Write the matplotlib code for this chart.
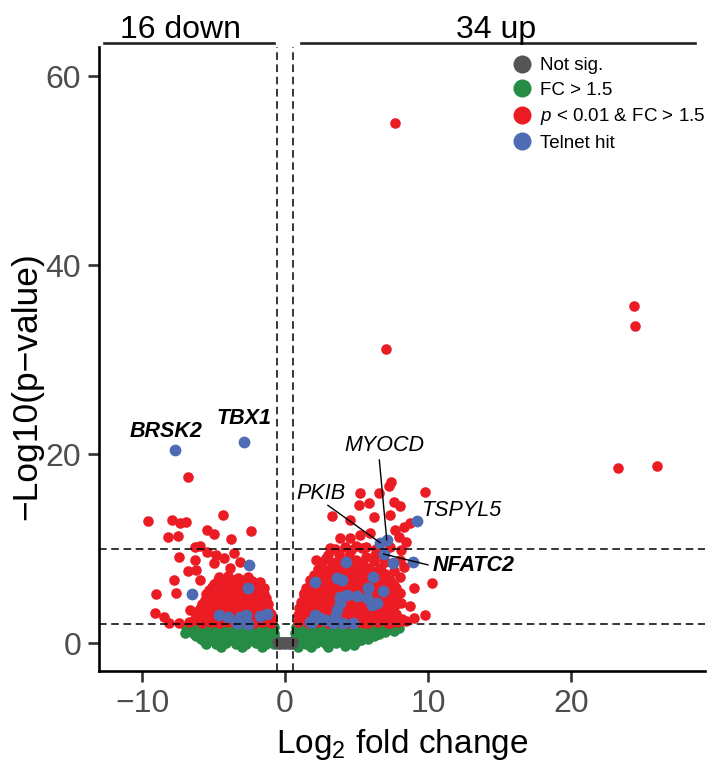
import matplotlib
matplotlib.use("Agg")
import matplotlib.pyplot as plt
from matplotlib.lines import Line2D

plt.rcParams['font.family'] = ['Liberation Sans', 'DejaVu Sans']
plt.rcParams['mathtext.fontset'] = 'custom'
plt.rcParams['mathtext.rm'] = 'Liberation Sans'
plt.rcParams['mathtext.it'] = 'Liberation Sans:italic'

# ---- genes with |log2FC| below threshold (not significant) ----
notsig_x = [-0.55, -0.42, -0.3, -0.18, -0.05, 0.08, 0.2, 0.33, 0.45, 0.55,
            -0.5, -0.25, 0.0, 0.25, 0.5]
notsig_y = [0.1, 0.15, 0.1, 0.15, 0.1, 0.15, 0.1, 0.15, 0.1, 0.1,
            -0.1, -0.05, -0.1, -0.05, -0.1]

# ---- fold change > 1.5 but p >= 0.01 ----
fc_down_x = [
    -6.9, -6.3, -5.6, -4.9, -4.2, -3.5, -2.8, -2.1, -1.4, -0.8,
    -6.6, -6.0, -5.3, -4.6, -3.9, -3.2, -2.5, -1.8, -1.1,
    -7.0, -6.4, -5.7, -5.0, -4.3, -3.6, -2.9, -2.2, -1.5, -0.8,
    -6.2, -5.6, -4.9, -4.2, -3.5, -2.8, -2.1, -1.4, -0.8,
    -5.9, -5.3, -4.6, -3.9, -3.2, -2.5, -1.8, -1.1, -0.7,
    -5.7, -5.0, -4.3, -3.6, -2.9, -2.2, -1.5, -0.9,
    -5.5, -4.8, -4.1, -3.4, -2.7, -2.0, -1.3, -0.8,
    -4.5, -3.0, -1.6,
]
fc_down_y = [
    1.7, 1.6, 1.8, 1.7, 1.8, 1.7, 1.8, 1.7, 1.8, 1.7,
    1.4, 1.4, 1.4, 1.4, 1.4, 1.4, 1.4, 1.4, 1.4,
    1.1, 1.0, 1.2, 1.1, 1.0, 1.1, 1.2, 1.0, 1.1, 1.1,
    0.8, 0.8, 0.8, 0.8, 0.8, 0.8, 0.8, 0.8, 0.8,
    0.5, 0.4, 0.5, 0.6, 0.4, 0.5, 0.6, 0.5, 0.4,
    0.2, 0.2, 0.2, 0.2, 0.2, 0.2, 0.2, 0.2,
    -0.1, -0.1, 0.0, -0.1, -0.1, 0.0, -0.1, -0.1,
    -0.4, -0.4, -0.4,
]
fc_up_x = [
    0.8, 1.5, 2.2, 2.9, 3.6, 4.3, 5.0, 5.7, 6.4, 7.1, 7.7,
    1.1, 1.8, 2.5, 3.2, 3.9, 4.6, 5.3, 6.0, 6.7, 7.4, 8.0,
    0.7, 1.4, 2.1, 2.8, 3.5, 4.2, 4.9, 5.6, 6.3, 7.0, 7.6,
    1.0, 1.7, 2.4, 3.1, 3.8, 4.5, 5.2, 5.9, 6.6,
    0.7, 1.4, 2.1, 2.8, 3.5, 4.2, 4.9, 5.6, 6.2,
    1.1, 1.8, 2.5, 3.2, 3.9, 4.6, 5.3, 5.8,
    0.8, 1.5, 2.2, 2.9, 3.6, 4.3, 5.0,
    0.9, 1.8, 3.0, 4.2, 4.8,
]
fc_up_y = [
    1.7, 1.8, 1.7, 1.8, 1.7, 1.8, 1.7, 1.8, 1.7, 1.8, 1.7,
    1.4, 1.4, 1.4, 1.4, 1.4, 1.4, 1.4, 1.4, 1.4, 1.5, 1.6,
    1.1, 1.0, 1.2, 1.1, 1.0, 1.1, 1.2, 1.0, 1.1, 1.2, 1.3,
    0.8, 0.8, 0.8, 0.8, 0.8, 0.8, 0.8, 0.9, 1.0,
    0.5, 0.4, 0.5, 0.6, 0.4, 0.5, 0.6, 0.6, 0.8,
    0.2, 0.2, 0.2, 0.2, 0.2, 0.3, 0.4, 0.5,
    -0.1, -0.1, 0.0, -0.1, 0.0, 0.0, 0.1,
    -0.35, -0.4, -0.4, -0.3, -0.2,
]

# ---- p < 0.01 & fold change > 1.5, down-regulated ----
sig_down_x = [
    -9.6, -7.9, -7.35, -6.95, -8.2, -7.5, -4.35, -5.45, -5.0, -2.4,
    -3.8, -6.3, -5.95, -5.45, -4.8, -4.25, -3.6, -7.45, -6.3, -5.0,
    -3.15, -6.8, -6.2, -3.85, -7.8, -5.95, -9.0, -7.6, -6.65, -9.1,
    -8.5, -8.15, -7.4, -6.75, -1.75, -1.5, -2.0, -1.4, -6.8,
    -4.6, -4.0, -3.3, -2.6,
    -4.7, -4.1, -3.5, -2.9, -2.3,
    -5.0, -4.4, -3.8, -3.1, -2.5, -2.0,
    -5.1, -4.5, -3.9, -3.3, -2.7, -2.1,
    -5.3, -4.7, -4.1, -3.5, -2.9, -2.3, -1.8,
    -5.5, -4.9, -4.3, -3.7, -3.1, -2.5, -2.0, -1.5,
    -5.4, -4.8, -4.2, -3.6, -3.0, -2.4, -1.8, -1.3,
    -5.6, -5.0, -4.4, -3.8, -3.2, -2.6, -2.0, -1.45,
    -5.8, -5.2, -4.6, -4.0, -3.4, -2.8, -2.2, -1.6, -1.2,
    -5.9, -5.1, -4.5, -3.9, -3.3, -2.7, -2.1, -1.5,
    -6.0, -5.4, -4.8, -4.2, -3.6, -3.0, -2.4, -1.8, -1.2,
    -6.2, -5.7, -5.1, -4.5, -3.9, -3.3, -2.7, -2.1, -1.6, -1.0,
    -6.1, -5.5, -4.9, -4.3, -3.7, -3.1, -2.5, -1.9, -1.3, -0.9,
    -6.4, -5.6, -5.0, -4.4, -3.8, -3.2, -2.6, -2.0, -1.4, -0.9,
    -5.8, -5.2, -4.6, -4.0, -3.4, -2.8, -2.2, -1.6, -1.0,
]
sig_down_y = [
    12.9, 13.1, 12.7, 12.8, 11.3, 11.35, 13.6, 12.0, 11.6, 11.9,
    11.0, 10.2, 10.3, 9.7, 9.3, 9.0, 9.6, 9.1, 8.8, 8.5,
    8.6, 7.6, 7.75, 7.95, 6.7, 6.7, 5.2, 5.35, 3.5, 3.2,
    2.8, 2.2, 2.1, 2.3, 6.5, 5.8, 4.6, 3.9, 17.6,
    7.0, 7.1, 6.9, 7.0,
    6.65, 6.6, 6.7, 6.65, 6.6,
    6.3, 6.2, 6.4, 6.3, 6.2, 6.3,
    5.95, 5.9, 6.0, 5.95, 5.9, 5.95,
    5.6, 5.5, 5.7, 5.6, 5.5, 5.6, 5.7,
    5.25, 5.2, 5.3, 5.25, 5.2, 5.25, 5.3, 5.2,
    4.9, 4.8, 5.0, 4.9, 4.8, 4.9, 5.0, 4.8,
    4.55, 4.5, 4.6, 4.55, 4.5, 4.55, 4.6, 4.5,
    4.2, 4.1, 4.3, 4.2, 4.1, 4.2, 4.3, 4.1, 4.2,
    3.85, 3.8, 3.9, 3.85, 3.8, 3.85, 3.9, 3.8,
    3.5, 3.4, 3.6, 3.5, 3.4, 3.5, 3.6, 3.4, 3.5,
    3.15, 3.1, 3.2, 3.15, 3.1, 3.15, 3.2, 3.1, 3.15, 3.1,
    2.8, 2.7, 2.9, 2.8, 2.7, 2.8, 2.9, 2.7, 2.8, 2.7,
    2.5, 2.45, 2.5, 2.45, 2.5, 2.45, 2.5, 2.45, 2.5, 2.45,
    2.2, 2.3, 2.2, 2.3, 2.2, 2.3, 2.2, 2.3, 2.2,
]

# ---- p < 0.01 & fold change > 1.5, up-regulated ----
sig_up_x = [
    7.4, 7.3, 5.25, 6.6, 9.8, 5.15, 5.85, 7.6, 8.05, 3.3,
    4.55, 6.2, 7.35, 8.75, 7.7, 8.3, 3.85, 4.55, 5.25, 5.95,
    7.95, 8.5, 3.15, 4.2, 5.0, 5.7, 7.35, 8.15, 2.2, 2.9,
    3.6, 5.0, 5.7, 6.9, 8.05, 8.3, 2.7, 4.55, 5.5, 6.65,
    7.6, 1.75, 3.15, 5.0, 7.35, 8.05, 9.0, 10.3, 1.3, 2.7,
    3.85, 6.65, 8.05, 1.3, 2.45, 6.2, 7.6, 8.75, 1.05, 2.7,
    5.25, 6.65, 7.8, 9.0, 9.8, 5.5, 7.35,
    0.9, 1.6, 2.3, 3.0, 3.7, 4.4, 5.1, 5.8, 6.5, 7.2, 7.9, 8.5,
    1.2, 1.9, 2.6, 3.3, 4.0, 4.7, 5.4, 6.1, 6.8, 7.5, 8.2,
    0.9, 1.5, 2.2, 2.9, 3.6, 4.3, 5.0, 5.7, 6.4, 7.1, 7.8,
    1.2, 1.9, 2.6, 3.3, 4.0, 4.7, 5.4, 6.1, 6.8, 7.5,
    1.0, 1.7, 2.4, 3.1, 3.8, 4.5, 5.2, 5.9, 6.6, 7.3,
    1.4, 2.1, 2.8, 3.5, 4.2, 4.9, 5.6, 6.3, 7.0, 7.7,
    1.1, 1.8, 2.5, 3.2, 3.9, 4.6, 5.3, 6.0, 6.7, 7.4, 8.1,
    1.5, 2.2, 2.9, 3.6, 4.3, 5.0, 5.7, 6.4, 7.1, 7.8,
    1.3, 2.0, 2.7, 3.4, 4.1, 4.8, 5.5, 6.2, 6.9, 7.6,
    1.7, 2.4, 3.1, 3.8, 4.5, 5.2, 5.9, 6.6, 7.3,
    1.5, 2.2, 2.9, 3.6, 4.3, 5.0, 5.7, 6.4, 7.1, 7.8,
    2.0, 2.7, 3.4, 4.1, 4.8, 5.5, 6.2, 6.9, 7.6,
    1.8, 2.5, 3.2, 3.9, 4.6, 5.3, 6.0, 6.7,
    2.2, 2.9, 3.6, 4.3, 5.0, 5.7, 6.4,
    2.0, 2.7, 3.4, 4.1, 4.8, 5.5, 6.2, 7.0,
    2.6, 3.3, 4.0, 4.7, 5.4, 6.1, 6.8,
    2.3, 3.0, 3.7, 4.4, 5.1, 5.8,
    2.6, 3.3, 4.0, 4.7, 5.4, 6.2, 7.0,
    3.0, 3.8, 4.5, 6.3,
    3.5, 4.6, 5.4, 6.4,
]
sig_up_y = [
    17.1, 16.6, 15.9, 15.9, 16.0, 14.6, 14.9, 15.0, 14.5, 13.5,
    13.05, 13.4, 13.6, 12.7, 12.0, 12.35, 11.1, 11.1, 11.45, 11.65,
    11.3, 10.75, 10.05, 10.2, 10.3, 10.2, 10.2, 9.9, 8.8, 9.0,
    8.6, 8.8, 9.15, 8.8, 8.8, 8.1, 7.75, 7.75, 8.1, 7.95,
    7.6, 6.7, 6.7, 6.7, 6.7, 7.05, 5.8, 6.35, 5.3, 5.3,
    5.3, 5.3, 5.3, 3.9, 4.2, 3.9, 3.9, 3.9, 2.8, 2.8,
    2.8, 2.8, 2.8, 2.65, 3.0, 2.1, 2.2,
    2.3, 2.2, 2.3, 2.2, 2.3, 2.2, 2.3, 2.2, 2.3, 2.2, 2.3, 2.4,
    2.65, 2.6, 2.7, 2.65, 2.6, 2.65, 2.7, 2.6, 2.65, 2.7, 2.6,
    3.0, 3.1, 2.9, 3.0, 3.1, 2.9, 3.0, 3.1, 2.9, 3.0, 3.1,
    3.35, 3.4, 3.3, 3.35, 3.4, 3.3, 3.35, 3.4, 3.3, 3.35,
    3.7, 3.8, 3.6, 3.7, 3.8, 3.6, 3.7, 3.8, 3.6, 3.7,
    4.05, 4.0, 4.1, 4.05, 4.0, 4.1, 4.05, 4.0, 4.1, 4.05,
    4.4, 4.3, 4.5, 4.4, 4.3, 4.5, 4.4, 4.3, 4.5, 4.4, 4.3,
    4.75, 4.7, 4.8, 4.75, 4.7, 4.8, 4.75, 4.7, 4.8, 4.75,
    5.1, 5.0, 5.2, 5.1, 5.0, 5.2, 5.1, 5.0, 5.2, 5.1,
    5.45, 5.4, 5.5, 5.45, 5.4, 5.5, 5.45, 5.4, 5.5,
    5.8, 5.9, 5.7, 5.8, 5.9, 5.7, 5.8, 5.9, 5.7, 5.8,
    6.15, 6.1, 6.2, 6.15, 6.1, 6.2, 6.15, 6.1, 6.2,
    6.5, 6.4, 6.6, 6.5, 6.4, 6.6, 6.5, 6.4,
    6.85, 6.8, 6.9, 6.85, 6.8, 6.9, 6.85,
    7.2, 7.3, 7.1, 7.2, 7.3, 7.1, 7.2, 7.3,
    7.55, 7.5, 7.6, 7.55, 7.5, 7.6, 7.55,
    7.9, 7.8, 8.0, 7.9, 7.8, 8.0,
    8.6, 8.5, 8.7, 8.6, 8.5, 8.7, 8.6,
    9.3, 9.4, 9.2, 9.3,
    10.0, 9.9, 10.1, 10.0,
]

# ---- strongest up-regulated genes ----
sig_top_x = [7.7, 7.1, 24.4, 24.5, 23.3, 26.05]
sig_top_y = [55.1, 31.1, 35.7, 33.6, 18.6, 18.8]

# ---- Telnet hits ----
hit_x = [
    -7.7, -2.85, -2.5, -2.57, -6.53, -4.6, -3.97, -3.38, -3.15, -2.73,
    -2.57, -1.75, -1.28,
    9.26, 7.12, 6.65, 6.9, 7.54, 8.94, 4.27, 2.1, 3.62, 3.97,
    6.18, 5.83, 6.88, 3.85, 4.32, 5.02, 5.72, 6.07, 6.42, 3.85,
    3.62, 3.5, 3.38, 2.1, 1.75, 2.45, 2.8, 4.78, 4.08, 1.87,
]
hit_y = [
    20.45, 21.35, 8.3, 5.8, 5.2, 3.0, 2.75, 2.1, 2.8, 3.0,
    2.05, 2.9, 3.1,
    12.95, 10.95, 10.65, 9.45, 8.55, 8.65, 8.65, 6.45, 6.9, 6.7,
    7.0, 5.8, 5.55, 4.95, 5.1, 5.0, 4.75, 4.05, 4.25, 4.25,
    3.5, 2.8, 2.2, 3.0, 2.3, 2.65, 2.45, 2.2, 2.2, 2.3,
]

# ---- labelled genes ----
gene_names = ['BRSK2', 'TBX1', 'MYOCD', 'PKIB', 'TSPYL5', 'NFATC2']
gene_x = [-7.7, -2.85, 7.12, 6.65, 9.26, 6.9]
gene_y = [20.45, 21.35, 10.95, 10.65, 12.95, 9.45]
gene_bold = [True, True, False, False, False, True]
label_x = [-8.3, -2.9, 6.95, 2.5, 12.35, 10.3]
label_y = [22.4, 23.8, 20.9, 15.8, 14.1, 8.2]
label_ha = ['center', 'center', 'center', 'center', 'center', 'left']
# where the leader line meets the label (None = no leader)
leader_x = [None, None, 6.6, 3.0, None, 10.0]
leader_y = [None, None, 19.4, 14.6, None, 8.3]

n_down, n_up = 16, 34
fc_cut = 0.585   # log2(1.5)
p_cut_lo, p_cut_hi = 2, 10

RED = '#EC1C24'
GREEN = '#268C45'
BLUE = '#4F6BB4'
GREY = '#555555'

fig = plt.figure(figsize=(7.1, 7.62), dpi=100)
ax = fig.add_axes([0.1399, 0.1198, 0.8531, 0.8185])

ms = 58
ax.scatter(fc_down_x + fc_up_x, fc_down_y + fc_up_y, s=ms, c=GREEN,
           linewidths=0, zorder=2)
ax.scatter(notsig_x, notsig_y, s=ms, c=GREY, linewidths=0, zorder=2)
ax.scatter(sig_down_x + sig_up_x + sig_top_x, sig_down_y + sig_up_y + sig_top_y,
           s=ms, c=RED, linewidths=0, zorder=3)
ax.scatter(hit_x, hit_y, s=72, c=BLUE, linewidths=0, zorder=4)

dash = dict(color='black', lw=1.1, ls=(0, (5, 3)), zorder=5)
ax.axvline(-fc_cut, **dash)
ax.axvline(fc_cut, **dash)
ax.axhline(p_cut_lo, **dash)
ax.axhline(p_cut_hi, **dash)

for i, name in enumerate(gene_names):
    if leader_x[i] is not None:
        ax.plot([gene_x[i], leader_x[i]], [gene_y[i], leader_y[i]],
                color='black', lw=1.0, zorder=6)
    ax.text(label_x[i], label_y[i], name, ha=label_ha[i], va='center',
            fontsize=15.5, style='italic',
            fontweight='bold' if gene_bold[i] else 'normal', zorder=7)

ax.set_xlim(-13.0, 29.4)
ax.set_ylim(-2.9, 63.1)
ax.set_xticks([-10, 0, 10, 20])
ax.set_yticks([0, 20, 40, 60])

for s in ['top', 'right']:
    ax.spines[s].set_visible(False)
for s in ['left', 'bottom']:
    ax.spines[s].set_linewidth(1.9)
ax.tick_params(length=8, width=1.9, color='#333333', labelsize=23,
               labelcolor='#4D4D4D', pad=5)

ax.set_xlabel('Log$_{\\mathregular{2}}$ fold change', fontsize=24, labelpad=6)
ax.set_ylabel('\u2212Log10(p\u2212value)', fontsize=25.5)
ax.yaxis.set_label_coords(-0.092, 0.456)

# up / down counts above the panel
ytop = 63.5
ax.plot([-12.7, -0.77], [ytop, ytop], color='#222222', lw=1.9, clip_on=False)
ax.plot([1.1, 28.7], [ytop, ytop], color='#222222', lw=1.9, clip_on=False)
ax.text(-7.3, 64.1, f'{n_down} down', ha='center', va='baseline', fontsize=23)
ax.text(14.8, 64.1, f'{n_up} up', ha='center', va='baseline', fontsize=23)

handles = [Line2D([], [], ls='', marker='o', ms=13, color=c, mec='none')
           for c in (GREY, GREEN, RED, BLUE)]
labels = ['Not sig.', 'FC > 1.5', '$p$ < 0.01 & FC > 1.5', 'Telnet hit']
ax.legend(handles, labels, loc='upper left', bbox_to_anchor=(0.676, 0.99),
          frameon=False, fontsize=13.5, handlelength=1.0, handletextpad=0.48,
          labelspacing=0.4, borderpad=0.2, borderaxespad=0)

fig.savefig('out.png', dpi=100)
